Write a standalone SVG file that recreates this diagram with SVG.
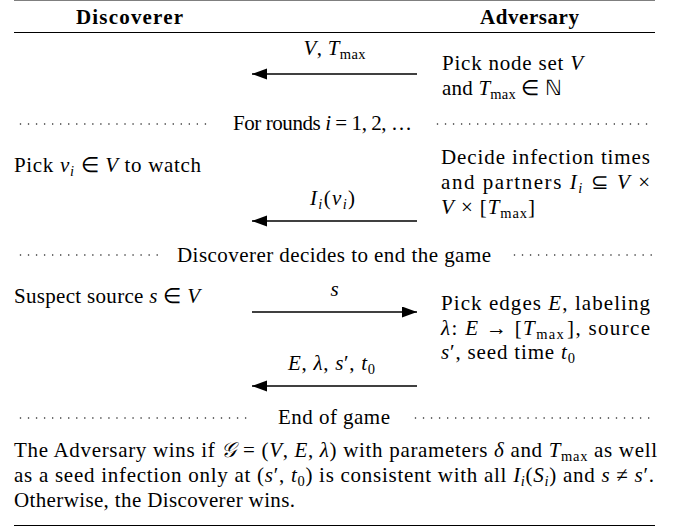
<svg xmlns="http://www.w3.org/2000/svg" width="677" height="527" viewBox="0 0 677 527">
<style>
text{font-family:'Liberation Serif','Times New Roman',serif;font-size:21px;fill:#000}
.b{font-weight:bold}
.i{font-style:italic}
.s{font-size:14.5px}
.rule{stroke:#000;stroke-width:1.2}
.arr{stroke:#000;stroke-width:1.4;fill:none}
.dots{stroke:#222;stroke-width:1.6;stroke-linecap:round;stroke-dasharray:0 8.04}
</style>
<defs>
<marker id="ah" markerUnits="userSpaceOnUse" markerWidth="16" markerHeight="12" refX="15" refY="5.5" orient="auto">
<path d="M0,0 L15,5.5 L0,11 z" fill="#000"/>
</marker>
</defs>
<rect width="677" height="527" fill="#fff"/>
<g id="rules">
<line class="rule" x1="14" y1="0.5" x2="655" y2="0.5" stroke-opacity="0.5"/>
<line class="rule" x1="14" y1="32.5" x2="655" y2="32.5"/>
<line class="rule" x1="14" y1="525.5" x2="655" y2="525.5"/>
</g>
<g id="connectors">
<line class="arr" x1="417" y1="74" x2="252" y2="74" marker-end="url(#ah)"/>
<line class="arr" x1="417" y1="221" x2="252" y2="221" marker-end="url(#ah)"/>
<line class="arr" x1="252" y1="312" x2="417" y2="312" marker-end="url(#ah)"/>
<line class="arr" x1="417" y1="386" x2="252" y2="386" marker-end="url(#ah)"/>
</g>
<g id="header">
<text class="b" x="129.5" y="24" text-anchor="middle" textLength="107" lengthAdjust="spacing">Discoverer</text>
<text class="b" x="529.5" y="24" text-anchor="middle" textLength="99" lengthAdjust="spacing">Adversary</text>
</g>
<g id="labels">
<text x="334.5" y="55" text-anchor="middle" textLength="62" lengthAdjust="spacing"><tspan class="i">V</tspan>, <tspan class="i">T</tspan><tspan class="s" dy="4">max</tspan></text>
<text x="332.5" y="205" text-anchor="middle" textLength="45" lengthAdjust="spacing"><tspan class="i">I</tspan><tspan class="s i" dy="4">i</tspan><tspan dy="-4">(</tspan><tspan class="i">v</tspan><tspan class="s i" dy="4">i</tspan><tspan dy="-4">)</tspan></text>
<text class="i" x="334.5" y="296" text-anchor="middle">s</text>
<text x="331.5" y="370" text-anchor="middle" textLength="87" lengthAdjust="spacing"><tspan class="i">E</tspan>, <tspan class="i">λ</tspan>, <tspan class="i">s</tspan>′, <tspan class="i">t</tspan><tspan class="s" dy="4">0</tspan></text>
</g>
<g id="adv-pick-nodes">
<text x="442" y="70" textLength="141" lengthAdjust="spacing">Pick node set <tspan class="i">V</tspan></text>
<text x="442" y="95" textLength="120" lengthAdjust="spacing">and <tspan class="i">T</tspan><tspan class="s" dy="4">max</tspan><tspan dy="-4"> ∈ ℕ</tspan></text>
</g>
<g id="rounds-sep">
<line class="dots" x1="20.5" y1="124" x2="213" y2="124"/>
<text x="233" y="130" textLength="179" lengthAdjust="spacing">For rounds <tspan class="i">i</tspan> = 1, 2, …</text>
<line class="dots" x1="437.5" y1="124" x2="654" y2="124"/>
</g>
<g id="disc-pick-watch">
<text x="14" y="172" textLength="187" lengthAdjust="spacing">Pick <tspan class="i">v</tspan><tspan class="s i" dy="4">i</tspan><tspan dy="-4"> ∈ </tspan><tspan class="i">V</tspan> to watch</text>
</g>
<g id="adv-decide">
<text x="441" y="164" textLength="209" lengthAdjust="spacing">Decide infection times</text>
<text x="441" y="189" textLength="209" lengthAdjust="spacing">and partners <tspan class="i">I</tspan><tspan class="s i" dy="4">i</tspan><tspan dy="-4"> ⊆ </tspan><tspan class="i">V</tspan> ×</text>
<text x="441" y="214" textLength="94" lengthAdjust="spacing"><tspan class="i">V</tspan> × [<tspan class="i">T</tspan><tspan class="s" dy="4">max</tspan><tspan dy="-4">]</tspan></text>
</g>
<g id="end-decision-sep">
<line class="dots" x1="20.5" y1="255" x2="162" y2="255"/>
<text x="177" y="262" textLength="314" lengthAdjust="spacing">Discoverer decides to end the game</text>
<line class="dots" x1="514.5" y1="255" x2="654" y2="255"/>
</g>
<g id="disc-suspect">
<text x="14" y="303" textLength="186" lengthAdjust="spacing">Suspect source <tspan class="i">s</tspan> ∈ <tspan class="i">V</tspan></text>
</g>
<g id="adv-pick-edges">
<text x="441" y="310" textLength="209" lengthAdjust="spacing">Pick edges <tspan class="i">E</tspan>, labeling</text>
<text x="441" y="335" textLength="209" lengthAdjust="spacing"><tspan class="i">λ</tspan>: <tspan class="i">E</tspan> → [<tspan class="i">T</tspan><tspan class="s" dy="4">max</tspan><tspan dy="-4" dx="2">], source</tspan></text>
<text x="441" y="359" textLength="134" lengthAdjust="spacing"><tspan class="i">s</tspan>′, seed time <tspan class="i">t</tspan><tspan class="s" dy="4">0</tspan></text>
</g>
<g id="end-sep">
<line class="dots" x1="20.5" y1="418" x2="252" y2="418"/>
<text x="278" y="424" textLength="112" lengthAdjust="spacing">End of game</text>
<line class="dots" x1="415.5" y1="418" x2="654" y2="418"/>
</g>
<g id="outcome">
<text x="14" y="457" textLength="643" lengthAdjust="spacing">The Adversary wins if <tspan class="i">𝒢</tspan> = (<tspan class="i">V</tspan>, <tspan class="i">E</tspan>, <tspan class="i">λ</tspan>) with parameters <tspan class="i">δ</tspan> and <tspan class="i">T</tspan><tspan class="s" dy="4">max</tspan><tspan dy="-4"> as well</tspan></text>
<text x="14" y="482" textLength="640" lengthAdjust="spacing">as a seed infection only at (<tspan class="i">s</tspan>′, <tspan class="i">t</tspan><tspan class="s" dy="4">0</tspan><tspan dy="-4">) is consistent with all </tspan><tspan class="i">I</tspan><tspan class="s i" dy="4">i</tspan><tspan dy="-4">(</tspan><tspan class="i">S</tspan><tspan class="s i" dy="4">i</tspan><tspan dy="-4">) and </tspan><tspan class="i">s</tspan> ≠ <tspan class="i">s</tspan>′.</text>
<text x="14" y="507" textLength="281" lengthAdjust="spacing">Otherwise, the Discoverer wins.</text>
</g>
</svg>
